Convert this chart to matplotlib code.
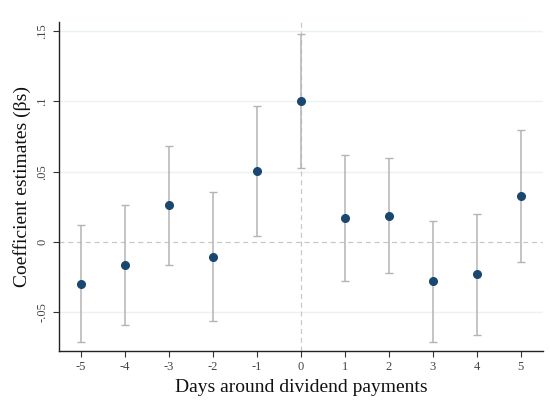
import numpy as np
import matplotlib.pyplot as plt

plt.rcParams['font.family'] = ['Liberation Serif', 'DejaVu Serif']

days = [-5, -4, -3, -2, -1, 0, 1, 2, 3, 4, 5]
coef = [-0.030, -0.0166, 0.0263, -0.0107, 0.0505, 0.1003, 0.0171, 0.0187, -0.028, -0.023, 0.0327]
ci_low = [-0.0711, -0.059, -0.016, -0.0562, 0.0043, 0.053, -0.0277, -0.0218, -0.0709, -0.0664, -0.0142]
ci_high = [0.0118, 0.0263, 0.0683, 0.0356, 0.0967, 0.148, 0.0619, 0.0595, 0.0152, 0.0201, 0.0799]
yticks = [-0.05, 0, 0.05, 0.1, 0.15]
ytick_labels = ['-.05', '0', '.05', '.1', '.15']

coef = np.array(coef)
err = [coef - np.array(ci_low), np.array(ci_high) - coef]

fig = plt.figure(figsize=(5.5, 4.19), dpi=100)
ax = fig.add_axes([0.1073, 0.1623, 0.8797, 0.7852])

for y in yticks:
    if y != 0:
        ax.axhline(y, color='#eaf2f3', lw=1, zorder=0)
ax.axhline(0, color='#c8c8c8', lw=0.9, ls=(0, (4, 3)), zorder=1)
ax.axvline(0, color='#c8c8c8', lw=0.9, ls=(0, (4, 3)), zorder=1)

ax.errorbar(days, coef, yerr=err, fmt='o', color='#1a476f', ms=5.5,
            ecolor='#b4b4b4', elinewidth=1.1, capsize=2.8, capthick=1.0, zorder=3)

ax.set_xlim(-5.5, 5.5)
ax.set_ylim(-0.0775, 0.1565)
ax.set_xticks(days)
ax.set_xticklabels([str(d) for d in days], fontsize=9, color='#444444')
ax.set_yticks(yticks)
ax.set_yticklabels(ytick_labels, fontsize=9, color='#444444', rotation=90, va='center')
ax.tick_params(direction='out', length=4, width=0.8, color='#333333')

for s in ['top', 'right']:
    ax.spines[s].set_visible(False)
for s in ['left', 'bottom']:
    ax.spines[s].set_color('#222222')
    ax.spines[s].set_linewidth(1)

ax.set_xlabel('Days around dividend payments', fontsize=14, color='#111111')
ax.set_ylabel('Coefficient estimates (βs)', fontsize=14, color='#111111')

fig.savefig('out.png', dpi=100)
